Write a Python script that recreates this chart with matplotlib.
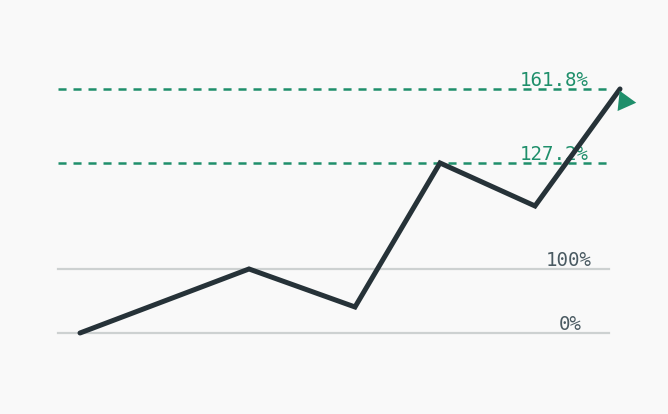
import matplotlib.pyplot as plt

# zigzag price path (x, y in chart units, y grows downward)
path_x = [80, 249, 355, 440, 535, 620]
path_y = [333, 269, 307, 163, 206, 89]

# fibonacci levels
level_names = ['0%', '100%', '127.2%', '161.8%']
level_y = [333, 269, 163, 89]
level_label_x = [559, 546, 520, 520]
level_dashed = [False, False, True, True]

bg = '#f9f9f9'
green = '#1f8f6b'
dark = '#263238'
grey_line = '#cdd1d1'
grey_text = '#4a5a62'

plt.rcParams['lines.scale_dashes'] = False
fig = plt.figure(figsize=(6.68, 4.1405), dpi=100, facecolor=bg)
ax = fig.add_axes([0, 0, 1, 1])
ax.set_facecolor(bg)
ax.set_xlim(0, 668)
ax.set_ylim(414, 0)
ax.axis('off')

for name, y, lx, dashed in zip(level_names, level_y, level_label_x, level_dashed):
    if dashed:
        ax.plot([58, 609], [y, y], color=green, lw=1.8, dashes=(5.8, 5.0),
                solid_capstyle='butt', zorder=1)
        col = green
    else:
        ax.plot([58, 609], [y, y], color=grey_line, lw=1.6, zorder=1)
        col = grey_text
    ax.text(lx, y - 3, name, color=col, fontsize=13.8, family='DejaVu Sans Mono',
            ha='left', va='baseline', zorder=2)

ax.plot(path_x, path_y, color=dark, lw=3.6, solid_joinstyle='miter',
        solid_capstyle='round', zorder=3)

# arrow head next to the final point
ax.plot(path_x[-1] + 4, path_y[-1] + 12, marker=(3, 0, -96), markersize=17,
        color=green, markeredgewidth=0, linestyle='none', zorder=4)

fig.savefig('out.png', dpi=100, facecolor=bg)
